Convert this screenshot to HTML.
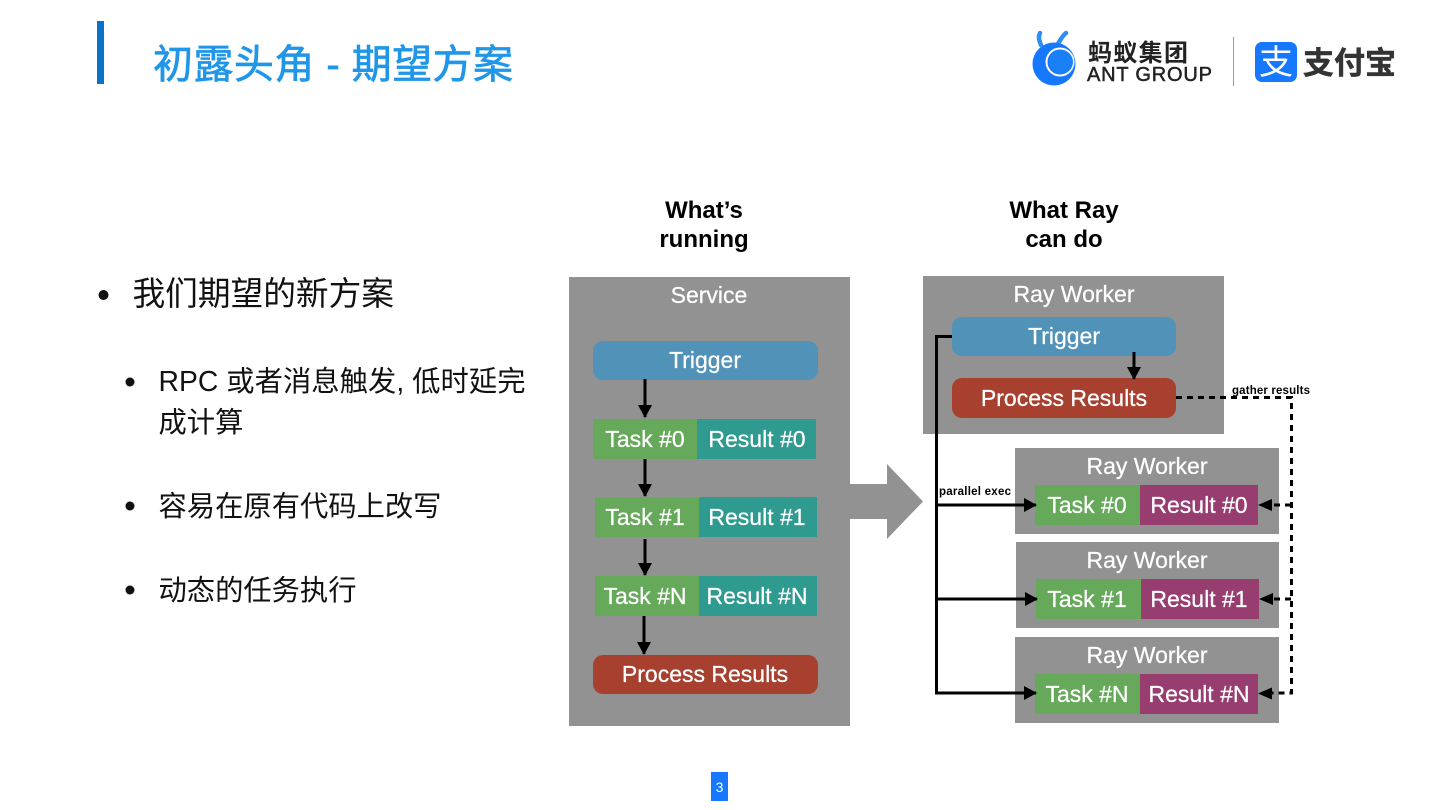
<!DOCTYPE html>
<html>
<head>
<meta charset="utf-8">
<style>
html,body{margin:0;padding:0;background:#fff;width:1440px;height:810px;overflow:hidden}
svg{display:block}
text{font-family:"Liberation Sans","Noto Sans CJK SC",sans-serif}
.w{fill:#fff;font-size:23px;text-anchor:middle;stroke:#fff;stroke-width:.25}
.h{fill:#000;font-size:24px;font-weight:bold;text-anchor:middle}
.c{fill:#111;font-size:28.3px}
.s{fill:#000;font-size:11.500px;font-weight:bold}
</style>
</head>
<body>
<svg width="1440" height="810" viewBox="0 0 1440 810" xmlns="http://www.w3.org/2000/svg">
<defs>
<marker id="a" markerUnits="userSpaceOnUse" markerWidth="14" markerHeight="14" refX="12" refY="7" orient="auto"><path d="M0 0L13 7L0 14Z" fill="#000"/></marker>
</defs>

<!-- Header -->
<rect x="97" y="21" width="7" height="63" fill="#0a72c8"/>
<text x="153" y="78" font-size="40" fill="#2096e8" stroke="#2096e8" stroke-width=".7" textLength="360">初露头角 - 期望方案</text>

<!-- Logo -->
<path d="M1041 45C1039 40 1038 37 1040 33M1057 45C1060 41 1062 36 1066 33" stroke="#2f8ff0" stroke-width="4.500" fill="none" stroke-linecap="round"/>
<circle cx="1054" cy="64" r="21.500" fill="#1677ff"/>
<circle cx="1060" cy="62" r="13.500" fill="none" stroke="#fff" stroke-width="2"/>
<circle cx="1061" cy="62" r="12" fill="#1a80f5"/>
<text x="1088" y="61" font-size="24" font-weight="bold" fill="#222" textLength="100">蚂蚁集团</text>
<text x="1087" y="81" font-size="20" fill="#222" textLength="125" stroke="#222" stroke-width=".5">ANT GROUP</text>
<rect x="1233" y="37" width="1" height="49" fill="#999"/>
<rect x="1255" y="42" width="42" height="40" rx="7" fill="#1677ff"/>
<text x="1276" y="74" font-size="34" fill="#fff" text-anchor="middle">支</text>
<text x="1303" y="74" font-size="31" font-weight="bold" fill="#333" stroke="#333" stroke-width=".5" textLength="93">支付宝</text>

<!-- Left bullets -->
<circle cx="103.500" cy="295" r="5" fill="#111"/>
<text x="132.500" y="305" font-size="32.700" fill="#111">我们期望的新方案</text>
<circle cx="130" cy="382" r="4.500" fill="#111"/>
<text x="158.500" y="391" class="c" textLength="367">RPC 或者消息触发, 低时延完</text>
<text x="158.500" y="432" class="c">成计算</text>
<circle cx="130" cy="506" r="4.500" fill="#111"/>
<text x="158.500" y="516" class="c">容易在原有代码上改写</text>
<circle cx="130" cy="590" r="4.500" fill="#111"/>
<text x="158.500" y="600" class="c" textLength="198">动态的任务执行</text>

<!-- Column headings -->
<text x="704" y="218" class="h">What’s</text>
<text x="704" y="247" class="h">running</text>
<text x="1064" y="218" class="h">What Ray</text>
<text x="1064" y="247" class="h">can do</text>

<!-- Service -->
<rect x="569" y="277" width="281" height="449" fill="#929292"/>
<text x="709" y="303" class="w">Service</text>
<rect x="593" y="341" width="225" height="39" rx="10" fill="#5092b8"/>
<text x="705" y="368" class="w">Trigger</text>
<rect x="593" y="419" width="104" height="40" fill="#66a95a"/>
<rect x="697" y="419" width="119" height="40" fill="#2f9a90"/>
<text x="645" y="447" class="w">Task #0</text>
<text x="757" y="447" class="w">Result #0</text>
<rect x="595" y="497" width="104" height="40" fill="#66a95a"/>
<rect x="699" y="497" width="118" height="40" fill="#2f9a90"/>
<text x="645" y="525" class="w">Task #1</text>
<text x="757" y="525" class="w">Result #1</text>
<rect x="595" y="576" width="104" height="40" fill="#66a95a"/>
<rect x="699" y="576" width="118" height="40" fill="#2f9a90"/>
<text x="645" y="604" class="w">Task #N</text>
<text x="757" y="604" class="w">Result #N</text>
<rect x="593" y="655" width="225" height="39" rx="10" fill="#a8402f"/>
<text x="705" y="682" class="w">Process Results</text>
<g stroke="#000" stroke-width="3" fill="none">
<line x1="645" y1="379" x2="645" y2="417" marker-end="url(#a)"/>
<line x1="645" y1="459" x2="645" y2="496" marker-end="url(#a)"/>
<line x1="645" y1="539" x2="645" y2="575" marker-end="url(#a)"/>
<line x1="644" y1="616" x2="644" y2="654" marker-end="url(#a)"/>
</g>

<!-- Big arrow -->
<path d="M850 484H887V464L923 501.500L887 539V519H850Z" fill="#929292"/>

<!-- Ray Worker main -->
<rect x="923" y="276" width="301" height="158" fill="#929292"/>
<text x="1074" y="302" class="w">Ray Worker</text>
<rect x="952" y="317" width="224" height="39" rx="10" fill="#5092b8"/>
<text x="1064" y="344" class="w">Trigger</text>
<rect x="952" y="378" width="224" height="40" rx="10" fill="#a8402f"/>
<text x="1064" y="406" class="w">Process Results</text>
<line x1="1134" y1="352" x2="1134" y2="379" stroke="#000" stroke-width="3" marker-end="url(#a)"/>

<!-- Workers -->
<rect x="1015" y="448" width="264" height="86" fill="#929292"/>
<text x="1147" y="474" class="w">Ray Worker</text>
<rect x="1035" y="485" width="105" height="40" fill="#66a95a"/>
<rect x="1140" y="485" width="118" height="40" fill="#973d70"/>
<text x="1087" y="513" class="w">Task #0</text>
<text x="1199" y="513" class="w">Result #0</text>

<rect x="1016" y="542" width="263" height="86" fill="#929292"/>
<text x="1147" y="568" class="w">Ray Worker</text>
<rect x="1036" y="579" width="105" height="40" fill="#66a95a"/>
<rect x="1141" y="579" width="118" height="40" fill="#973d70"/>
<text x="1087" y="607" class="w">Task #1</text>
<text x="1199" y="607" class="w">Result #1</text>

<rect x="1015" y="637" width="264" height="86" fill="#929292"/>
<text x="1147" y="663" class="w">Ray Worker</text>
<rect x="1035" y="674" width="105" height="40" fill="#66a95a"/>
<rect x="1140" y="674" width="118" height="40" fill="#973d70"/>
<text x="1087" y="702" class="w">Task #N</text>
<text x="1199" y="702" class="w">Result #N</text>

<!-- Black connectors -->
<path d="M952 336.500H936.500V693H1036" fill="none" stroke="#000" stroke-width="3" marker-end="url(#a)"/>
<line x1="936" y1="505" x2="1036" y2="505" stroke="#000" stroke-width="3" marker-end="url(#a)"/>
<line x1="936" y1="599" x2="1037" y2="599" stroke="#000" stroke-width="3" marker-end="url(#a)"/>

<!-- Dashed connectors -->
<g fill="none" stroke="#000" stroke-width="3" stroke-dasharray="6 5">
<path d="M1176 397.500H1291.500V693H1272"/>
<path d="M1291 505H1272"/>
<path d="M1291 599H1272"/>
</g>
<path d="M1258 505L1272 499V511Z M1259 599L1273 593V605Z M1258 693.500L1272 687.500V699.500Z" fill="#000"/>

<text x="1232" y="394" class="s" textLength="78">gather results</text>
<text x="939" y="495" class="s" textLength="72">parallel exec</text>

<!-- Page number -->
<rect x="711" y="772" width="17" height="29" fill="#1677ff"/>
<text x="719.500" y="792" font-size="14" fill="#fff" text-anchor="middle">3</text>
</svg>
</body>
</html>
